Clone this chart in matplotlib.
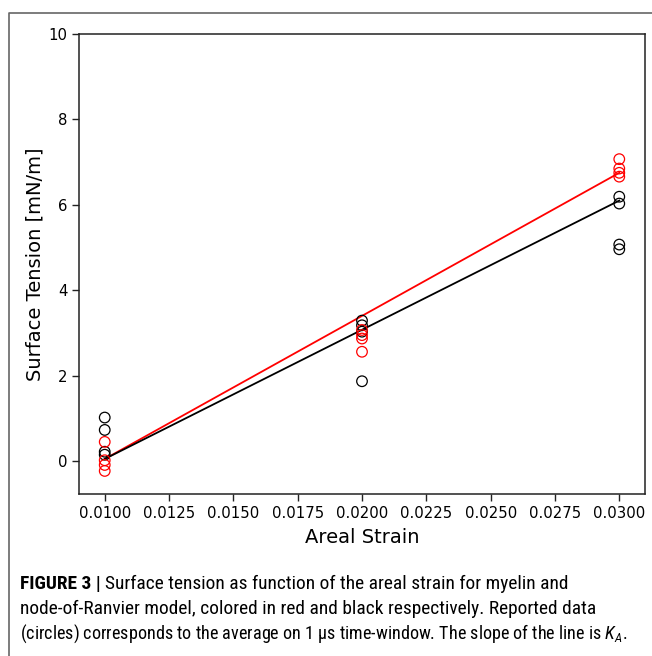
import matplotlib
matplotlib.use("Agg")
import matplotlib.pyplot as plt
from matplotlib.lines import Line2D
from matplotlib import font_manager

# ---- data ----
strain_levels = [0.01, 0.02, 0.03]
red_x = [0.01] * 4 + [0.02] * 4 + [0.03] * 4
red_y = [0.45, 0.02, -0.09, -0.23,
         3.07, 2.95, 2.87, 2.56,
         7.07, 6.85, 6.75, 6.66]
black_x = [0.01] * 4 + [0.02] * 4 + [0.03] * 4
black_y = [1.02, 0.73, 0.22, 0.15,
           3.29, 3.18, 3.03, 1.87,
           6.19, 6.03, 5.07, 4.96]
red_fit_x = [0.01, 0.03]
red_fit_y = [0.05, 6.75]
black_fit_x = [0.01, 0.03]
black_fit_y = [0.05, 6.10]

W, H = 652, 656
fig = plt.figure(figsize=(W / 100, H / 100), dpi=100)

names = {f.name for f in font_manager.fontManager.ttflist}
cap_font = "Liberation Sans"
for cand in ["Liberation Sans Narrow", "Roboto Condensed", "Open Sans Condensed",
             "Noto Sans Condensed", "Arial Narrow"]:
    if cand in names:
        cap_font = cand
        break
plt.rcParams["mathtext.fontset"] = "custom"
plt.rcParams["mathtext.rm"] = cap_font
plt.rcParams["mathtext.it"] = cap_font + ":italic"

ax = fig.add_axes([79 / W, 1 - 494 / H, (645 - 79) / W, (494 - 34) / H])
ax.scatter(black_x, black_y, s=58, facecolors="none", edgecolors="black", linewidths=0.9, zorder=3)
ax.scatter(red_x, red_y, s=58, facecolors="none", edgecolors="red", linewidths=0.9, zorder=3)
ax.plot(red_fit_x, red_fit_y, color="red", lw=1.3, zorder=2)
ax.plot(black_fit_x, black_fit_y, color="black", lw=1.3, zorder=2)

ax.set_xlim(0.009, 0.031)
ax.set_ylim(-0.77, 10)
ax.set_xticks([0.01 + 0.0025 * i for i in range(9)])
ax.set_xticklabels([f"{0.01 + 0.0025 * i:.4f}" for i in range(9)])
ax.set_yticks([0, 2, 4, 6, 8, 10])
ax.tick_params(labelsize=10.7, length=5, width=1, color="#222")
for sp in ax.spines.values():
    sp.set_linewidth(1.1)
    sp.set_color("#222")
ax.set_xlabel("Areal Strain", fontsize=14, labelpad=5)
ax.set_ylabel("Surface Tension [mN/m]", fontsize=14, labelpad=3)

# frame border (top and left visible)
fig.add_artist(Line2D([9 / W, 9 / W, 1.0], [0.0, 1 - 12.7 / H, 1 - 12.7 / H],
                      transform=fig.transFigure, color="#666", lw=1.2))

# caption
cap_bold = "FIGURE 3 |"
cap_lines = ["Surface tension as function of the areal strain for myelin and",
             "node-of-Ranvier model, colored in red and black respectively. Reported data",
             "(circles) corresponds to the average on 1 μs time-window. The slope of the line is $K_A$."]
x0 = 20 / W
lines_y = [584, 609, 634]
renderer = fig.canvas.get_renderer()


def width_at(s, fs, weight="normal"):
    p = fig.text(x0, 0.5, s, fontsize=fs, family=cap_font, fontweight=weight)
    w = p.get_window_extent(renderer).width
    p.remove()
    return w


base = 13.3
fs2 = base * 578.0 / width_at(cap_lines[1], base)
fs3 = min(fs2, base * 610.0 / width_at(cap_lines[2], base))
wb = width_at(cap_bold, fs2, "bold")
w1 = width_at(cap_lines[0], fs2)
fs1 = min(fs2 * 1.03, fs2 * (547.0 - wb - 4) / w1) if w1 > 0 else fs2

t = fig.text(x0, 1 - lines_y[0] / H, cap_bold, fontsize=fs2, fontweight="bold",
             family=cap_font, va="center", ha="left")
bb = t.get_window_extent(renderer)
fig.text(bb.x1 / W + 4 / W, 1 - lines_y[0] / H, cap_lines[0],
         fontsize=fs1, family=cap_font, va="center", ha="left")
fig.text(x0, 1 - lines_y[1] / H, cap_lines[1],
         fontsize=fs2, family=cap_font, va="center", ha="left")
fig.text(x0, 1 - lines_y[2] / H, cap_lines[2],
         fontsize=fs3, family=cap_font, va="center", ha="left")

fig.savefig("out.png", dpi=100)
